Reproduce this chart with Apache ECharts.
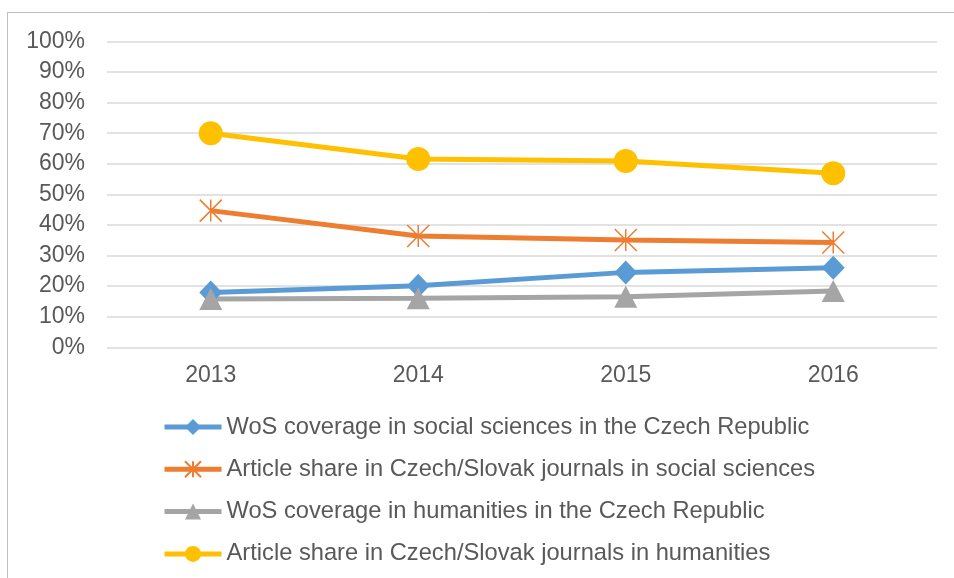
<!DOCTYPE html>
<html>
<head>
<meta charset="utf-8">
<script src="https://cdn.jsdelivr.net/npm/echarts@6/dist/echarts.min.js"></script>
<style>
  html, body { margin: 0; padding: 0; background: #fff; }
  #chart { width: 954px; height: 578px; }
</style>
</head>
<body>
<div id="chart"></div>
<script>
const years = ['2013', '2014', '2015', '2016']
const yTicks = [0, 10, 20, 30, 40, 50, 60, 70, 80, 90, 100]

const wosSocial = [17.9, 20.1, 24.5, 26.0]
const czSkSocial = [44.7, 36.4, 35.1, 34.3]
const wosHumanities = [15.8, 16.0, 16.5, 18.4]
const czSkHumanities = [70.0, 61.6, 60.9, 56.9]

const seriesNames = [
  'WoS coverage in social sciences in the Czech Republic',
  'Article share in Czech/Slovak journals in social sciences',
  'WoS coverage in humanities in the Czech Republic',
  'Article share in Czech/Slovak journals in humanities'
]

const textColor = '#595959'
const font = 'Liberation Sans, Arial, sans-serif'
// excel style "star" marker: X plus vertical stroke
const asterisk = 'path://M0,0L20,20M20,0L0,20M10,0L10,20'

const chart = echarts.init(document.getElementById('chart'))

function lineSeries(name, data, color, symbol, size, extra) {
  return Object.assign({
    name,
    type: 'line',
    data,
    symbol,
    symbolSize: size,
    showAllSymbol: true,
    lineStyle: { color, width: 5 },
    itemStyle: { color, borderColor: color, borderWidth: 0 },
    emphasis: { disabled: true },
    animation: false
  }, extra || {})
}

chart.setOption({
  animation: false,
  textStyle: { fontFamily: font },
  graphic: [
    { type: 'line', shape: { x1: 7, y1: 12.5, x2: 954, y2: 12.5 }, style: { stroke: '#bfbfbf', lineWidth: 1 } },
    { type: 'line', shape: { x1: 7.5, y1: 12, x2: 7.5, y2: 578 }, style: { stroke: '#bfbfbf', lineWidth: 1 } }
  ],
  grid: { left: 107, right: 17, top: 41.5, bottom: 230.7 },
  legend: {
    orient: 'vertical',
    left: 162,
    top: 415,
    padding: 0,
    itemWidth: 57,
    itemHeight: 20,
    itemGap: 18.3,
    lineStyle: { width: 5 },
    textStyle: { color: textColor, fontSize: 23.7, lineHeight: 24, fontFamily: font },
    data: seriesNames
  },
  xAxis: {
    type: 'category',
    data: years,
    boundaryGap: true,
    axisLine: { show: false },
    axisTick: { show: false },
    axisLabel: { color: textColor, fontSize: 23, margin: 17 }
  },
  yAxis: {
    type: 'value',
    min: yTicks[0],
    max: yTicks[yTicks.length - 1],
    interval: 10,
    axisLine: { show: false },
    axisTick: { show: false },
    axisLabel: { color: textColor, fontSize: 23, margin: 22, formatter: '{value}%' },
    splitLine: { lineStyle: { color: '#d9d9d9', width: 1.5 } }
  },
  series: [
    lineSeries(seriesNames[0], wosSocial, '#5B9BD5', 'diamond', [23, 24]),
    lineSeries(seriesNames[1], czSkSocial, '#ED7D31', asterisk, 22, {
      itemStyle: { color: '#ED7D31', borderColor: '#ED7D31', borderWidth: 1.5 }
    }),
    lineSeries(seriesNames[2], wosHumanities, '#A5A5A5', 'triangle', [23, 22]),
    lineSeries(seriesNames[3], czSkHumanities, '#FFC000', 'circle', 24)
  ]
})
</script>
</body>
</html>
